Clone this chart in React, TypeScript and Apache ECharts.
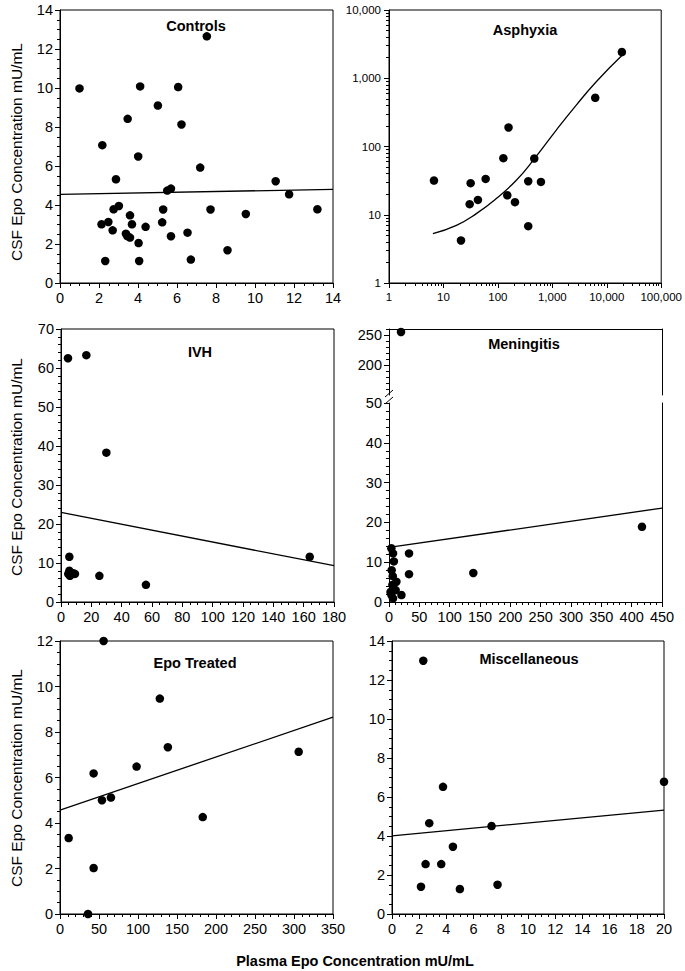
import React, { useEffect, useRef } from 'react';
import * as echarts from 'echarts';

const FONT = '"Liberation Sans", Arial, Helvetica, sans-serif';

// ---------- Controls ----------
const controlsX = [1.0, 2.17, 2.87, 2.75, 3.02, 2.13, 2.48, 2.7, 2.32, 3.47, 3.59, 3.69, 3.38, 3.45, 3.59, 4.03, 4.06, 4.01, 4.11, 4.39, 5.02, 5.24, 5.29, 5.5, 5.69, 5.69, 6.06, 6.23, 6.54, 6.71, 7.19, 7.53, 7.72, 8.59, 9.53, 11.06, 11.75, 13.2];
const controlsY = [9.98, 7.07, 5.32, 3.78, 3.95, 3.01, 3.13, 2.7, 1.13, 8.42, 3.47, 3.01, 2.53, 2.41, 2.33, 2.05, 1.13, 6.49, 10.08, 2.88, 9.1, 3.11, 3.77, 4.74, 4.84, 2.4, 10.05, 8.13, 2.58, 1.2, 5.92, 12.65, 3.77, 1.68, 3.54, 5.22, 4.55, 3.78];
const controlsFitX = [0, 14];
const controlsFitY = [4.55, 4.8];

// ---------- Asphyxia (log-log) ----------
const asphyxiaX = [6.7, 21, 31.6, 30.3, 43, 59.6, 126, 157, 149, 206, 361, 361, 466, 618, 6140, 18960];
const asphyxiaY = [31.7, 4.2, 29, 14.3, 16.5, 33.5, 67.4, 190, 19.3, 15.3, 31, 6.8, 66.7, 30.3, 517, 2420];
const asphyxiaCurveX = [6.4, 17.3, 40.2, 93.7, 218, 473, 1183, 2754, 6412, 18970];
const asphyxiaCurveY = [5.3, 7.0, 10.4, 17.3, 32, 66.8, 174, 404, 889, 2150];
const asphyxiaXTicks = [1, 10, 100, 1000, 10000, 100000];
const asphyxiaYTicks = [1, 10, 100, 1000, 10000];

// ---------- IVH ----------
const ivhX = [4.6, 16.7, 29.9, 5.5, 5.5, 4.8, 5.9, 8.1, 9.2, 25.3, 56.0, 164.0];
const ivhY = [62.5, 63.3, 38.3, 11.6, 8.0, 7.2, 6.7, 7.4, 7.2, 6.7, 4.4, 11.6];
const ivhFitX = [0, 180];
const ivhFitY = [23.0, 9.3];

// ---------- Meningitis (broken y axis) ----------
const meningitisHighX = [19.8];
const meningitisHighY = [255];
const meningitisX = [417, 139, 33, 33, 20.5, 3.9, 6.6, 8, 4.4, 6.2, 12.2, 5.6, 11, 3.9, 6.6, 2.5];
const meningitisY = [18.9, 7.3, 12.2, 7.0, 1.75, 13.5, 12.2, 10.2, 8.0, 6.5, 5.1, 4.3, 3.0, 1.8, 0.9, 2.5];
const meningitisFitX = [0, 450];
const meningitisFitY = [13.7, 23.6];
const meningitisHighLabels = [200, 250];
const meningitisHighMinor = [160, 170, 180, 190, 210, 220, 230, 240, 260];

// ---------- Epo Treated ----------
const epoX = [55.9, 128, 138.3, 306, 98.2, 43.1, 53.8, 65.3, 183, 11.1, 43.1, 35.9];
const epoY = [12.0, 9.47, 7.33, 7.13, 6.48, 6.18, 5.0, 5.12, 4.26, 3.34, 2.02, 0];
const epoFitX = [0, 350];
const epoFitY = [4.57, 8.65];

// ---------- Miscellaneous ----------
const miscX = [2.3, 3.75, 20.0, 2.74, 7.32, 4.48, 2.47, 3.62, 2.13, 4.99, 7.76];
const miscY = [12.99, 6.52, 6.78, 4.66, 4.51, 3.45, 2.56, 2.56, 1.4, 1.28, 1.5];
const miscFitX = [0, 20];
const miscFitY = [4.01, 5.33];

const panelTitles = ['Controls', 'Asphyxia', 'IVH', 'Meningitis', 'Epo Treated', 'Miscellaneous'];
const yAxisTitle = 'CSF Epo Concentration mU/mL';
const xAxisTitle = 'Plasma Epo Concentration mU/mL';

const pairs = (xs: number[], ys: number[]) => xs.map((x, i) => [x, ys[i]]);

function logMinorTicks(maxDecade: number) {
  const out: number[] = [];
  for (let d = 0; d < maxDecade; d++) {
    for (let m = 2; m <= 9; m++) out.push(m * Math.pow(10, d));
  }
  return out;
}

const black = { color: '#000', width: 1 };

function valueAxis(gridIndex: number, min: number, max: number, interval: number, minorSplit: number, extra: any = {}) {
  return {
    type: 'value',
    gridIndex,
    min,
    max,
    interval,
    axisLine: { show: true, onZero: false, lineStyle: black },
    axisTick: { show: true, length: 5, lineStyle: black },
    minorTick: { show: true, splitNumber: minorSplit, length: 3, lineStyle: black },
    splitLine: { show: false },
    minorSplitLine: { show: false },
    axisLabel: { color: '#000', fontSize: 14.5, fontFamily: FONT, margin: 7 },
    ...extra,
  };
}

function lineOnlyAxis(gridIndex: number, min: number, max: number, position: string, type = 'value') {
  return {
    type,
    gridIndex,
    min,
    max,
    position,
    axisLine: { show: true, onZero: false, lineStyle: black },
    axisTick: { show: false },
    axisLabel: { show: false },
    splitLine: { show: false },
  };
}

const fmtComma = (v: number) => Number(v).toLocaleString('en-US');

function logAxis(gridIndex: number, min: number, max: number, majors: number[], minors: number[], position: string) {
  return [
    {
      type: 'log',
      logBase: 10,
      gridIndex,
      min,
      max,
      position,
      axisLine: { show: true, onZero: false, lineStyle: black },
      axisTick: { show: true, length: 5, lineStyle: black, customValues: majors },
      axisLabel: {
        color: '#000',
        fontSize: 11.5,
        fontFamily: FONT,
        margin: 8,
        customValues: majors,
        formatter: fmtComma,
      },
      splitLine: { show: false },
    },
    {
      type: 'log',
      logBase: 10,
      gridIndex,
      min,
      max,
      position,
      axisLine: { show: false },
      axisTick: { show: true, length: 3, lineStyle: black, customValues: minors },
      axisLabel: { show: false },
      splitLine: { show: false },
    },
  ];
}

const scatter = (xi: number, yi: number, xs: number[], ys: number[]) => ({
  type: 'scatter',
  xAxisIndex: xi,
  yAxisIndex: yi,
  data: pairs(xs, ys),
  symbol: 'circle',
  symbolSize: 8.5,
  itemStyle: { color: '#000', opacity: 1 },
  clip: false,
  silent: true,
});

const fitLine = (xi: number, yi: number, xs: number[], ys: number[], smooth = false) => ({
  type: 'line',
  xAxisIndex: xi,
  yAxisIndex: yi,
  data: pairs(xs, ys),
  symbol: 'none',
  smooth,
  lineStyle: { color: '#000', width: 1.3 },
  silent: true,
});

const gridBox = (left: number, top: number, width: number, height: number, show = true) => ({
  left,
  top,
  width,
  height,
  show,
  borderColor: '#000',
  borderWidth: 1,
  backgroundColor: 'transparent',
});

const titleText = (text: string, x: number, y: number) => ({
  type: 'text',
  x,
  y,
  style: {
    text,
    fill: '#000',
    font: `bold 14.5px ${FONT}`,
    textAlign: 'center',
    textVerticalAlign: 'middle',
  },
});

const yName = (y: number) => ({
  type: 'text',
  x: 16,
  y,
  rotation: Math.PI / 2,
  style: {
    text: yAxisTitle,
    fill: '#000',
    font: `15.5px ${FONT}`,
    textAlign: 'center',
    textVerticalAlign: 'middle',
  },
});

const [asphX0, asphX1] = logAxis(1, 1, 100000, asphyxiaXTicks, logMinorTicks(5), 'bottom');
const [asphY0, asphY1] = logAxis(1, 1, 10000, asphyxiaYTicks, logMinorTicks(4), 'left');

const option: any = {
  animation: false,
  backgroundColor: '#fff',
  grid: [
    gridBox(60, 10, 273, 273), // 0 Controls
    gridBox(389, 10, 273, 273), // 1 Asphyxia
    gridBox(61, 329, 273, 273), // 2 IVH
    gridBox(389, 329, 273, 66, false), // 3 Meningitis upper
    gridBox(389, 403, 273, 199, false), // 4 Meningitis lower
    gridBox(60, 641, 273, 273), // 5 Epo Treated
    gridBox(392, 641, 272, 273), // 6 Miscellaneous
  ],
  xAxis: [
    valueAxis(0, 0, 14, 2, 4), // 0
    asphX0, // 1
    asphX1, // 2
    valueAxis(2, 0, 180, 20, 4), // 3
    lineOnlyAxis(3, 0, 450, 'top'), // 4
    valueAxis(4, 0, 450, 50, 5, { position: 'bottom' }), // 5
    valueAxis(5, 0, 350, 50, 5), // 6
    valueAxis(6, 0, 20, 2, 4), // 7
  ],
  yAxis: [
    valueAxis(0, 0, 14, 2, 4), // 0
    asphY0, // 1
    asphY1, // 2
    valueAxis(2, 0, 70, 10, 5), // 3
    {
      type: 'value',
      gridIndex: 3,
      min: 150,
      max: 260,
      position: 'left',
      axisLine: { show: true, onZero: false, lineStyle: black },
      axisTick: { show: true, length: 5, lineStyle: black, customValues: meningitisHighLabels },
      axisLabel: { color: '#000', fontSize: 14.5, fontFamily: FONT, margin: 7, customValues: meningitisHighLabels },
      splitLine: { show: false },
    }, // 4
    {
      type: 'value',
      gridIndex: 3,
      min: 150,
      max: 260,
      position: 'left',
      axisLine: { show: false },
      axisTick: { show: true, length: 3, lineStyle: black, customValues: meningitisHighMinor },
      axisLabel: { show: false },
      splitLine: { show: false },
    }, // 5
    lineOnlyAxis(3, 150, 260, 'right'), // 6
    valueAxis(4, 0, 50, 10, 5, { position: 'left' }), // 7
    lineOnlyAxis(4, 0, 50, 'right'), // 8
    valueAxis(5, 0, 12, 2, 4), // 9
    valueAxis(6, 0, 14, 2, 4), // 10
  ],
  series: [
    scatter(0, 0, controlsX, controlsY),
    fitLine(0, 0, controlsFitX, controlsFitY),
    fitLine(1, 1, asphyxiaCurveX, asphyxiaCurveY, true),
    scatter(1, 1, asphyxiaX, asphyxiaY),
    scatter(3, 3, ivhX, ivhY),
    fitLine(3, 3, ivhFitX, ivhFitY),
    scatter(4, 4, meningitisHighX, meningitisHighY),
    scatter(5, 7, meningitisX, meningitisY),
    fitLine(5, 7, meningitisFitX, meningitisFitY),
    scatter(6, 9, epoX, epoY),
    fitLine(6, 9, epoFitX, epoFitY),
    scatter(7, 10, miscX, miscY),
    fitLine(7, 10, miscFitX, miscFitY),
  ],
  graphic: [
    titleText(panelTitles[0], 196, 26),
    titleText(panelTitles[1], 525, 30),
    titleText(panelTitles[2], 200, 352),
    titleText(panelTitles[3], 524, 344),
    titleText(panelTitles[4], 195, 663),
    titleText(panelTitles[5], 529, 659),
    yName(152),
    yName(467),
    yName(778),
    {
      type: 'text',
      x: 355,
      y: 961,
      style: {
        text: xAxisTitle,
        fill: '#000',
        font: `bold 14.5px ${FONT}`,
        textAlign: 'center',
        textVerticalAlign: 'middle',
      },
    },
    {
      type: 'line',
      shape: { x1: 385, y1: 397, x2: 393, y2: 390 },
      style: { stroke: '#000', lineWidth: 1 },
    },
    {
      type: 'line',
      shape: { x1: 385, y1: 404, x2: 393, y2: 397 },
      style: { stroke: '#000', lineWidth: 1 },
    },
  ],
};

export default function App() {
  const ref = useRef<HTMLDivElement>(null);
  useEffect(() => {
    if (!ref.current) return;
    const chart = echarts.init(ref.current, null, { renderer: 'svg' });
    chart.setOption(option);
    return () => chart.dispose();
  }, []);
  return (
    <div
      ref={ref}
      style={{ position: 'absolute', left: 0, top: 0, width: 685, height: 971, background: '#fff' }}
    />
  );
}
